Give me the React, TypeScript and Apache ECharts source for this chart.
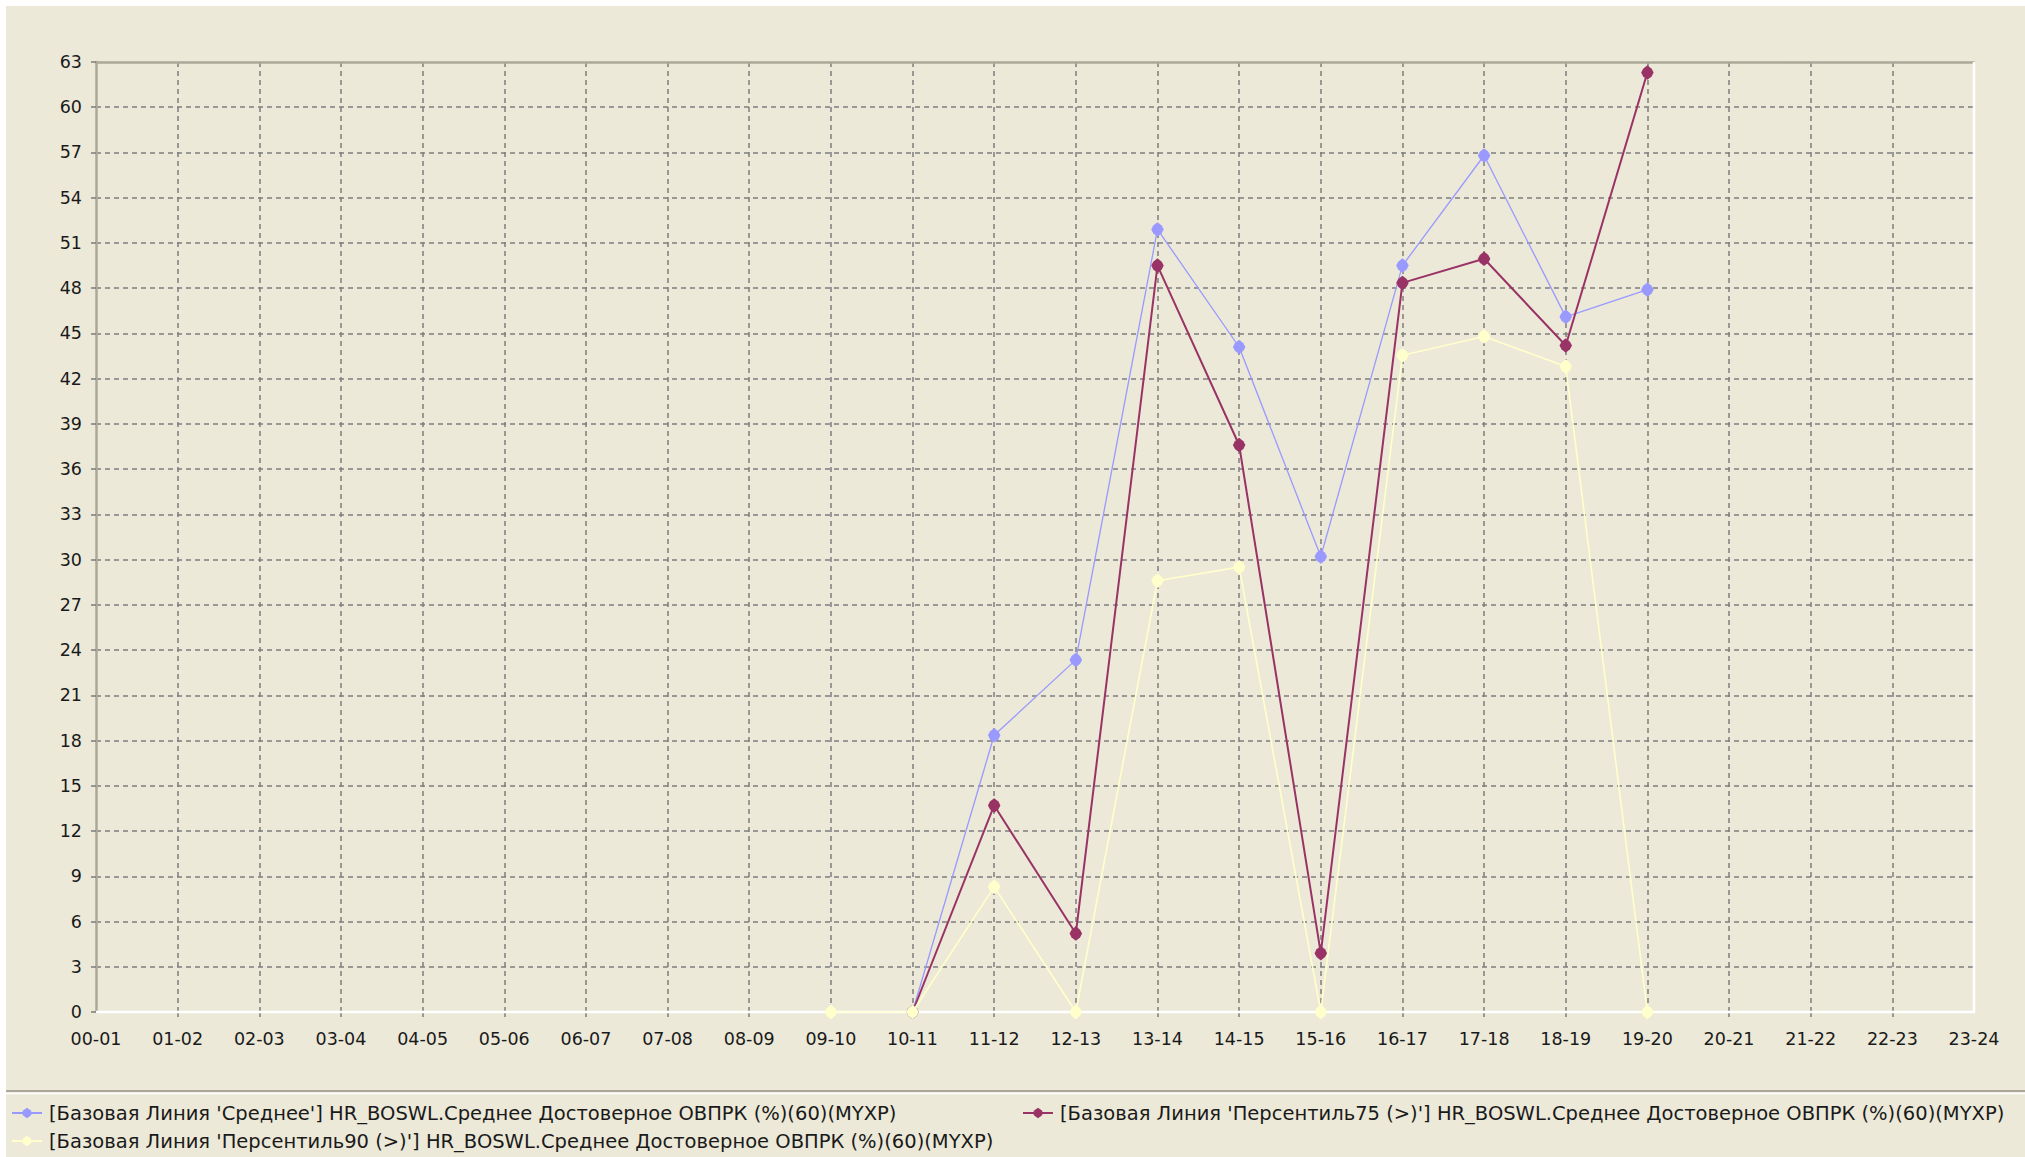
import React, { useEffect, useRef } from "react";
import * as echarts from "echarts";

const categories: string[] = [
  "00-01", "01-02", "02-03", "03-04", "04-05", "05-06", "06-07", "07-08",
  "08-09", "09-10", "10-11", "11-12", "12-13", "13-14", "14-15", "15-16",
  "16-17", "17-18", "18-19", "19-20", "20-21", "21-22", "22-23", "23-24",
];

const seriesNames: string[] = [
  "[Базовая Линия 'Среднее'] HR_BOSWL.Среднее Достоверное ОВПРК (%)(60)(MYXP)",
  "[Базовая Линия 'Персентиль75 (>)'] HR_BOSWL.Среднее Достоверное ОВПРК (%)(60)(MYXP)",
  "[Базовая Линия 'Персентиль90 (>)'] HR_BOSWL.Среднее Достоверное ОВПРК (%)(60)(MYXP)",
];

const meanValues: (number | null)[] = [
  null, null, null, null, null, null, null, null, null, null,
  0, 18.35, 23.35, 51.9, 44.1, 30.2, 49.5, 56.8, 46.1, 47.9,
  null, null, null, null,
];

const p75Values: (number | null)[] = [
  null, null, null, null, null, null, null, null, null, null,
  0, 13.7, 5.2, 49.5, 37.6, 3.9, 48.35, 49.95, 44.2, 62.3,
  null, null, null, null,
];

const p90Values: (number | null)[] = [
  null, null, null, null, null, null, null, null, null, 0,
  0, 8.3, 0, 28.6, 29.5, 0, 43.55, 44.8, 42.8, 0,
  null, null, null, null,
];

const yMin = 0;
const yMax = 63;
const yStep = 3;

const seriesColors = ["#9999FF", "#993366", "#FFFFCC"];
const seriesWidths = [1.3, 2, 1.6];

const FONT = "'DejaVu Sans', sans-serif";
const BG = "#ECE9D8";
const BORDER_DARK = "#ACA899";
const GRID = "#7d7d7d";
const MARKER = "path://M5,0 L8.4,2.8 L10,6 L8.4,9.2 L5,12 L1.6,9.2 L0,6 L1.6,2.8 Z";

export default function App() {
  const ref = useRef<HTMLDivElement>(null);

  useEffect(() => {
    if (!ref.current) return;
    const chart = echarts.init(ref.current, undefined, { renderer: "svg" });
    const valuesList = [meanValues, p75Values, p90Values];
    const lastIdx = categories.length - 1;

    const option: any = {
      animation: false,
      backgroundColor: BG,
      textStyle: { fontFamily: FONT },
      grid: { left: 90, top: 56, right: 51, bottom: 145, containLabel: false },
      xAxis: [
        {
          type: "category",
          data: categories,
          boundaryGap: false,
          position: "bottom",
          axisLine: { show: false },
          axisTick: {
            show: true,
            length: 9,
            interval: (i: number) => i > 0 && i < lastIdx,
            lineStyle: { color: GRID, width: 1.5, type: [5, 4] },
          },
          axisLabel: {
            interval: 0,
            margin: 18,
            color: "#1a1a1a",
            fontSize: 17.5,
            fontFamily: FONT,
          },
          splitLine: {
            show: true,
            interval: (i: number) => i > 0 && i < lastIdx,
            lineStyle: { color: GRID, width: 1.5, type: [5, 4] },
          },
        },
        {
          type: "category",
          data: categories,
          boundaryGap: false,
          position: "top",
          axisLine: { show: true, lineStyle: { color: BORDER_DARK, width: 2.5 } },
          axisTick: { show: false },
          axisLabel: { show: false },
          splitLine: { show: false },
        },
      ],
      yAxis: [
        {
          type: "value",
          min: yMin,
          max: yMax,
          interval: yStep,
          position: "left",
          axisLine: { show: true, lineStyle: { color: BORDER_DARK, width: 2.5 } },
          axisTick: {
            show: true,
            length: 9,
            lineStyle: { color: GRID, width: 1.5, type: [5, 4] },
          },
          axisLabel: {
            margin: 14,
            color: "#1a1a1a",
            fontSize: 17.5,
            fontFamily: FONT,
          },
          splitLine: {
            show: true,
            showMinLine: false,
            showMaxLine: false,
            lineStyle: { color: GRID, width: 1.5, type: [5, 4] },
          },
        },
      ],
      legend: [
        {
          orient: "vertical",
          left: 0,
          top: 1092,
          itemWidth: 30,
          itemHeight: 13,
          itemGap: 8,
          data: [seriesNames[0], seriesNames[2]],
          textStyle: { fontSize: 19.5, color: "#1a1a1a", fontFamily: FONT, padding: [0, 0, 0, 2] },
        },
        {
          orient: "vertical",
          left: 1011,
          top: 1092,
          itemWidth: 30,
          itemHeight: 13,
          itemGap: 8,
          data: [seriesNames[1]],
          textStyle: { fontSize: 19.5, color: "#1a1a1a", fontFamily: FONT, padding: [0, 0, 0, 2] },
        },
      ],
      series: seriesNames.map((name, i) => ({
        name,
        type: "line",
        data: valuesList[i],
        xAxisIndex: 0,
        yAxisIndex: 0,
        symbol: MARKER,
        symbolSize: [12.5, 14.5],
        showAllSymbol: true,
        connectNulls: false,
        itemStyle: { color: seriesColors[i] },
        lineStyle: { color: seriesColors[i], width: seriesWidths[i] },
        emphasis: { disabled: true },
        z: 3 + i,
      })),
    };

    chart.setOption(option);

    // Inset-style white borders (bottom and right of the plot), placed through the axes' own scales.
    const p0 = chart.convertToPixel({ xAxisIndex: 0, yAxisIndex: 0 }, [0, yMin]) as number[];
    const p1 = chart.convertToPixel({ xAxisIndex: 0, yAxisIndex: 0 }, [lastIdx, yMax]) as number[];
    const w = chart.getWidth();
    chart.setOption({
      graphic: [
        {
          type: "line",
          z: 2,
          shape: { x1: p0[0], y1: p0[1], x2: p1[0] + 1, y2: p0[1] },
          style: { stroke: "#FFFFFF", lineWidth: 2.5 },
        },
        {
          type: "line",
          z: 2,
          shape: { x1: p1[0], y1: p1[1], x2: p1[0], y2: p0[1] },
          style: { stroke: "#FFFFFF", lineWidth: 2.5 },
        },
        {
          type: "line",
          shape: { x1: 0, y1: 1085, x2: w, y2: 1085 },
          style: { stroke: BORDER_DARK, lineWidth: 2 },
        },
        {
          type: "line",
          shape: { x1: 0, y1: 1087.5, x2: w, y2: 1087.5 },
          style: { stroke: "#FFFFFF", lineWidth: 1.5 },
        },
      ],
    });

    return () => chart.dispose();
  }, []);

  return (
    <div
      style={{
        position: "fixed",
        left: 0,
        top: 0,
        width: 2025,
        height: 1157,
        background: "#FFFFFF",
      }}
    >
      <div
        ref={ref}
        style={{ position: "absolute", left: 6, top: 6, width: 2019, height: 1151 }}
      />
    </div>
  );
}
